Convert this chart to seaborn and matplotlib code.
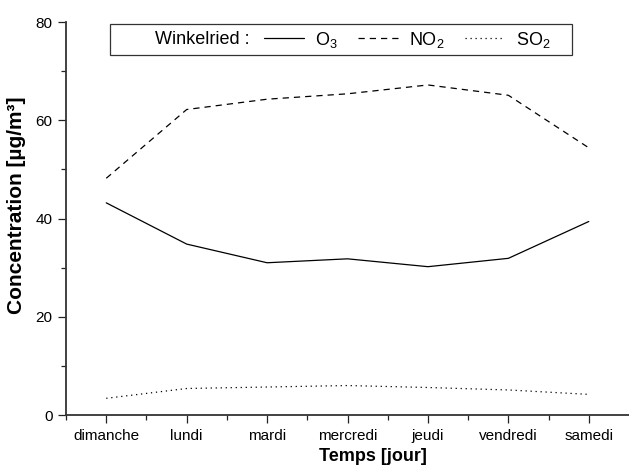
import matplotlib
matplotlib.use("Agg")
import matplotlib.pyplot as plt
from matplotlib.lines import Line2D
from matplotlib.offsetbox import HPacker
from matplotlib.ticker import MultipleLocator, FixedLocator
import seaborn as sns
import pandas as pd

days = ["dimanche", "lundi", "mardi", "mercredi", "jeudi", "vendredi", "samedi"]
o3 = [43.2, 34.8, 31.0, 31.8, 30.2, 31.9, 39.4]
no2 = [48.2, 62.2, 64.3, 65.4, 67.2, 65.1, 54.4]
so2 = [3.4, 5.4, 5.7, 6.0, 5.6, 5.1, 4.2]

sns.set_style("ticks")
plt.rcParams["font.family"] = ["Liberation Sans", "DejaVu Sans"]
plt.rcParams["mathtext.fontset"] = "custom"
plt.rcParams["mathtext.rm"] = "Liberation Sans"
plt.rcParams["mathtext.it"] = "Liberation Sans"
plt.rcParams["text.color"] = "black"
plt.rcParams["axes.labelcolor"] = "black"
plt.rcParams["xtick.color"] = "black"
plt.rcParams["ytick.color"] = "black"

df = pd.DataFrame({
    "jour": days * 3,
    "conc": o3 + no2 + so2,
    "polluant": ["O3"] * 7 + ["NO2"] * 7 + ["SO2"] * 7,
})

fig = plt.figure(figsize=(6.29, 4.70), dpi=100)
ax = fig.add_axes([0.105, 0.117, 0.895, 0.836])

line_styles = {"O3": "-", "NO2": (0, (5, 4)), "SO2": (0, (1, 3))}
for name, ls in line_styles.items():
    sub = df[df["polluant"] == name]
    sns.lineplot(data=sub, x="jour", y="conc", ax=ax, color="black",
                 linewidth=0.9, linestyle=ls, sort=False, legend=False)

ax.set_xlim(-0.5, 6.5)
ax.set_ylim(0, 80)
ax.yaxis.set_major_locator(MultipleLocator(20))
ax.yaxis.set_minor_locator(MultipleLocator(10))
ax.xaxis.set_minor_locator(FixedLocator([i + 0.5 for i in range(-1, 6)]))
ax.set_xticks(range(len(days)))
ax.set_xticklabels(days)

for s in ["top", "right"]:
    ax.spines[s].set_visible(False)
for s in ["left", "bottom"]:
    ax.spines[s].set_linewidth(1.3)
    ax.spines[s].set_color("#333333")

ax.tick_params(axis="both", which="major", direction="out", length=5.8, width=0.9,
               color="#222222", labelsize=11, pad=4)
ax.tick_params(axis="both", which="minor", direction="out", length=3.6, width=0.9,
               color="#222222")

ax.set_xlabel("Temps [jour]", fontsize=13, fontweight="bold")
ax.xaxis.set_label_coords(0.545, -0.083)
ax.set_ylabel("Concentration [µg/m³]", fontsize=15, fontweight="bold")
ax.yaxis.set_label_coords(-0.072, 0.534)

handles = [
    Line2D([], [], color="black", linewidth=0.9, linestyle="-"),
    Line2D([], [], color="black", linewidth=0.9, linestyle=(0, (5, 4))),
    Line2D([], [], color="black", linewidth=0.9, linestyle=(0, (1, 3))),
]
labels = [r"O$_3$", r"NO$_2$", r"SO$_2$" + "    "]
fs = 13
leg = ax.legend(handles, labels, ncol=3, loc="upper left",
                title="        Winkelried :",
                title_fontsize=fs, bbox_to_anchor=(0.078, 0.995), borderaxespad=0,
                frameon=True, fancybox=False, edgecolor="black", fontsize=fs,
                handlelength=2.2, columnspacing=1.1, handletextpad=0.65,
                borderpad=0.22)
leg.get_frame().set_linewidth(0.9)

# lay the title out on the same row as the entries
row = HPacker(pad=leg.borderpad * fs * fig.dpi / 72, sep=10, align="center",
              children=[leg._legend_title_box, leg._legend_handle_box])
row.set_figure(fig)
row.axes = ax
leg._legend_box = row
leg._set_loc(leg._loc)

fig.savefig("out.png", dpi=100)
